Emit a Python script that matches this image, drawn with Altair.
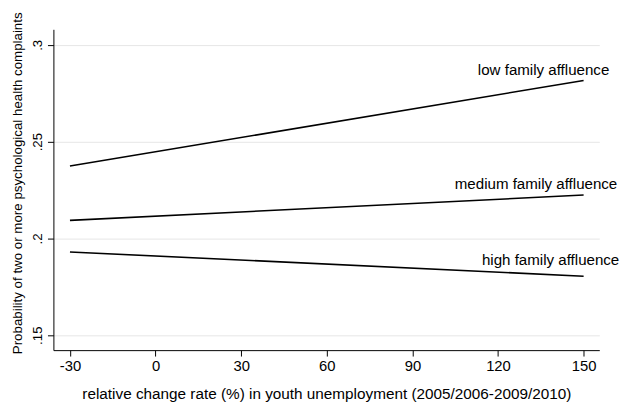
import altair as alt
import pandas as pd

# data
x_vals = [-30, 150]
low = [0.2374, 0.2816]
medium = [0.2093, 0.2224]
high = [0.1930, 0.1805]
groups = ["low family affluence", "medium family affluence", "high family affluence"]

# annotation anchors (data units)
label_x = [159.0, 161.8, 162.5]
label_y = [0.2867, 0.2281, 0.1888]

x_ticks = [-30, 0, 30, 60, 90, 120, 150]
y_ticks = [0.15, 0.2, 0.25, 0.3]

rows = []
for g, series in zip(groups, [low, medium, high]):
    for xv, yv in zip(x_vals, series):
        rows.append({"group": g, "x": xv, "y": yv})
df = pd.DataFrame(rows)
lab = pd.DataFrame({"label": groups, "x": label_x, "y": label_y})

FONT = "Liberation Sans"
xscale = alt.Scale(domain=[-35.8, 155.5], nice=False, zero=False)
yscale = alt.Scale(domain=[0.1423, 0.308], nice=False, zero=False)

lines = alt.Chart(df).mark_line(color="black", strokeWidth=1.6).encode(
    x=alt.X("x:Q", scale=xscale,
            axis=alt.Axis(values=x_ticks, grid=False,
                          title="relative change rate (%) in youth unemployment (2005/2006-2009/2010)",
                          labelExpr="'' + datum.value",
                          labelBaseline="alphabetic", labelPadding=15, tickSize=6,
                          titleBaseline="alphabetic", titleY=49,
                          labelFontSize=15, titleFontSize=15.5)),
    y=alt.Y("y:Q", scale=yscale,
            axis=alt.Axis(values=y_ticks, grid=True, gridColor="#e6e6e6",
                          title="Probability of two or more psychological health complaints",
                          labelExpr="replace(format(datum.value, '.2~f'), /^0/, '')",
                          labelAngle=270, labelAlign="center", labelBaseline="alphabetic",
                          labelPadding=6, tickSize=6,
                          titleAngle=270, titleBaseline="alphabetic",
                          titleX=-32.5, titleY=155.5,
                          labelFontSize=13.5, titleFontSize=13.5)),
    detail="group:N",
)

texts = alt.Chart(lab).mark_text(align="right", baseline="middle", fontSize=15.3,
                                 font=FONT, color="black", clip=False).encode(
    x=alt.X("x:Q", scale=xscale),
    y=alt.Y("y:Q", scale=yscale),
    text="label:N",
)

chart = (lines + texts).properties(
    width=553, height=325,
    padding={"left": 46, "top": 19, "right": 23, "bottom": 54},
    autosize=alt.AutoSizeParams(type="none"),
    background="white",
).configure_view(stroke=None).configure_axis(
    labelFont=FONT, titleFont=FONT,
    labelColor="black", titleColor="black", domainColor="black", tickColor="black",
    titleFontWeight="normal", domainWidth=1, tickWidth=1,
)

chart.save("out.html", embed_options={"renderer": "svg", "actions": False})
